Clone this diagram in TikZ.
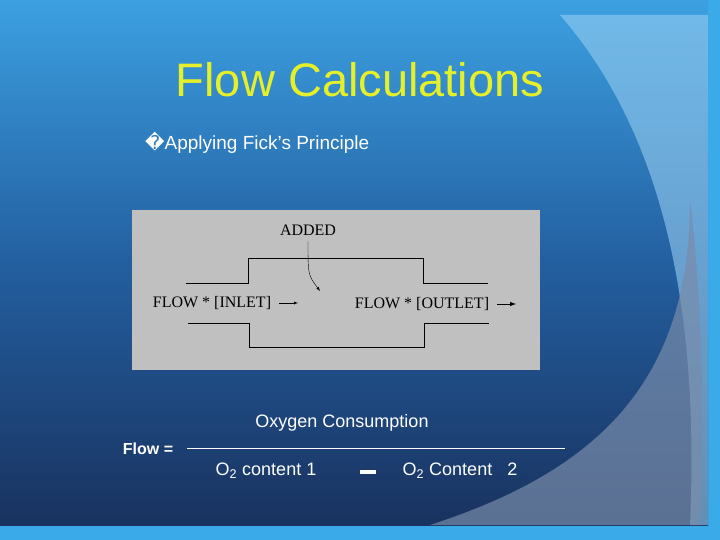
\documentclass[tikz,border=0pt]{standalone}
\usepackage{fontspec}
\setmainfont{Liberation Sans}
\newfontfamily\serifx{Liberation Serif}
\newfontfamily\djv{DejaVu Sans}
\begin{document}
\begin{tikzpicture}[x=1pt,y=-1pt,
  pipe/.style={line width=0.9pt,black},
  boxtxt/.style={font=\serifx\fontsize{16}{18}\selectfont,inner sep=0pt},
  wtxt/.style={text=white,inner sep=0pt,font=\fontsize{18}{20}\selectfont}]
\useasboundingbox (0,0) rectangle (720,540);
\fill[color={rgb,255:red,58;green,170;blue,232}] (0,0) rectangle (720,540);
\shade[top color={rgb,255:red,60;green,160;blue,225},bottom color={rgb,255:red,25;green,50;blue,95},middle color={rgb,255:red,35;green,95;blue,160}] (0,0) rectangle (708,525);
\fill[color={rgb,255:red,150;green,205;blue,240},opacity=0.6] (560,15) .. controls (660,130) and (700,300) .. (690,525) -- (708,525) -- (708,15) -- cycle;
\fill[color={rgb,255:red,120;green,140;blue,170},opacity=0.7] (430,525) .. controls (600,470) and (690,380) .. (690,200) .. controls (702,300) and (705,420) .. (700,525) -- cycle;
\node[text={rgb,255:red,230;green,240;blue,40},font=\fontsize{47}{50}\selectfont,inner sep=0pt] (title) at (360,80) {Flow Calculations};
\node[wtxt,anchor=west,font=\fontsize{19}{21}\selectfont] (bul) at (145,143) {{\djv\char"FFFD}Applying Fick’s Principle};
\fill[color={rgb,255:red,192;green,192;blue,192}] (132,210) rectangle (540,370);
\coordinate (t1) at (186,283); \coordinate (t2) at (488,283);
\draw[pipe] (t1) -- (248,283) -- (248,258) -- (423,258) -- (423,283) -- (t2);
\coordinate (b1) at (188,323); \coordinate (b2) at (489,323);
\draw[pipe] (b1) -- (249,323) -- (249,347) -- (424,347) -- (424,323) -- (b2);
\node[boxtxt] (added) at (308,230) {ADDED};
\coordinate (addend) at (320,291);
\draw[-latex,thin] (added.south) ++(0,6) .. controls (308,275) .. (addend);
\node[boxtxt] (inlet) at (212,303) {FLOW * [INLET]};
\coordinate (ia1) at (279,303); \coordinate (ia2) at (298,303);
\draw[-latex,thin] (ia1) -- (ia2);
\node[boxtxt] (outlet) at (422,304) {FLOW * [OUTLET]};
\coordinate (oa1) at (497,304); \coordinate (oa2) at (516,304);
\draw[-latex,line width=1pt] (oa1) -- (oa2);
\node[wtxt] (num) at (342,423) {Oxygen Consumption};
\coordinate (f1) at (187,448); \coordinate (f2) at (565,448);
\draw[white,line width=0.8pt] (f1) -- (f2);
\node[wtxt,font=\bfseries\fontsize{16}{18}\selectfont] (flow) at (148,449) {Flow =};
\node[wtxt] (d1) at (266,471) {O\textsubscript{2} content 1};
\fill[white] (360,470) rectangle (376,474);
\node[wtxt] (d2) at (460,471) {O\textsubscript{2} Content\ \ \ 2};
\end{tikzpicture}
\end{document}
